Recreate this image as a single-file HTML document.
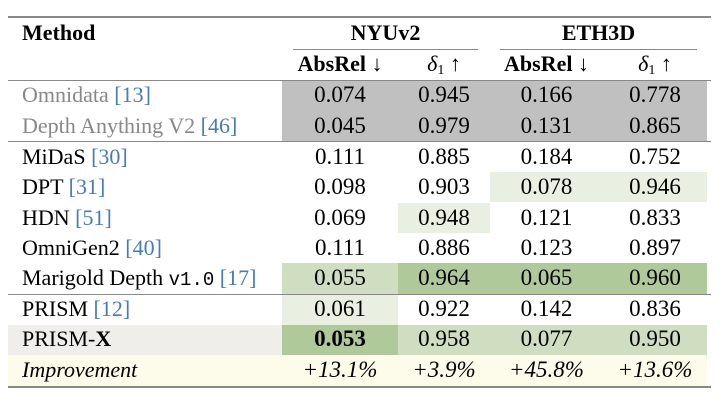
<!DOCTYPE html>
<html><head><meta charset="utf-8"><style>
*{font-family:"Liberation Serif","Times New Roman",serif}
body{margin:0;width:724px;height:400px;background:#fff;position:relative;overflow:hidden;font-size:22px;color:#000}
.r{position:absolute}
.t{position:absolute;line-height:30px;height:30px;white-space:nowrap;font-family:"Liberation Serif",serif}
.t b,.t i,.t span{font-family:"Liberation Serif",serif}
.c{text-align:center}
.n{font-size:23px}
.g{color:#888}.b{color:#4a7ab8}
.t .mono{font-family:"Liberation Mono",monospace;font-size:19px}
sub{font-size:14px;line-height:0;vertical-align:-3px}
</style></head><body>
<div class="r" style="left:282px;top:81px;width:425px;height:60px;background:#c0c0c0"></div>
<div class="r" style="left:490px;top:172px;width:217px;height:30px;background:#e9f0e2"></div>
<div class="r" style="left:398px;top:203px;width:92px;height:30px;background:#e9f0e2"></div>
<div class="r" style="left:282px;top:263px;width:116px;height:31px;background:#cfddc0"></div>
<div class="r" style="left:398px;top:263px;width:309px;height:31px;background:#b0c99a"></div>
<div class="r" style="left:282px;top:295px;width:116px;height:30px;background:#e9f0e2"></div>
<div class="r" style="left:8px;top:325px;width:274px;height:30px;background:#efeeea"></div>
<div class="r" style="left:282px;top:325px;width:116px;height:30px;background:#b0c99a"></div>
<div class="r" style="left:398px;top:325px;width:309px;height:30px;background:#cfddc0"></div>
<div class="r" style="left:8px;top:355px;width:699px;height:31px;background:#fdfbe9"></div>
<div class="r" style="left:8px;top:16px;width:703px;height:2px;background:#888"></div>
<div class="r" style="left:293px;top:49px;width:185px;height:1px;background:#888"></div>
<div class="r" style="left:500px;top:49px;width:197px;height:1px;background:#888"></div>
<div class="r" style="left:8px;top:80px;width:703px;height:1px;background:#888"></div>
<div class="r" style="left:8px;top:141px;width:703px;height:1px;background:#888"></div>
<div class="r" style="left:8px;top:294px;width:703px;height:1px;background:#888"></div>
<div class="r" style="left:8px;top:386px;width:703px;height:2px;background:#888"></div>
<div class="t" style="left:22px;top:18px;font-weight:bold">Method</div>
<div class="t c" style="left:293px;width:185px;top:18px;font-weight:bold">NYUv2</div>
<div class="t c" style="left:500px;width:197px;top:18px;font-weight:bold">ETH3D</div>
<div class="t c" style="left:282px;width:116px;top:49px"><b>AbsRel</b> ↓</div>
<div class="t c" style="left:398px;width:92px;top:49px"><i>δ</i><sub>1</sub> ↑</div>
<div class="t c" style="left:490px;width:113px;top:49px"><b>AbsRel</b> ↓</div>
<div class="t c" style="left:603px;width:104px;top:49px"><i>δ</i><sub>1</sub> ↑</div>
<div id="rows"></div>
<script>
var rows=[
[80,'<span class="g">Omnidata</span> <span class="b">[13]</span>',['0.074','0.945','0.166','0.778']],
[111,'<span class="g">Depth Anything V2</span> <span class="b">[46]</span>',['0.045','0.979','0.131','0.865']],
[142,'MiDaS <span class="b">[30]</span>',['0.111','0.885','0.184','0.752']],
[172,'DPT <span class="b">[31]</span>',['0.098','0.903','0.078','0.946']],
[203,'HDN <span class="b">[51]</span>',['0.069','0.948','0.121','0.833']],
[233,'OmniGen2 <span class="b">[40]</span>',['0.111','0.886','0.123','0.897']],
[263,'Marigold Depth <span class="mono">v1.0</span> <span class="b">[17]</span>',['0.055','0.964','0.065','0.960']],
[294,'PRISM <span class="b">[12]</span>',['0.061','0.922','0.142','0.836']],
[324,'PRISM-<b>X</b>',['<b>0.053</b>','0.958','0.077','0.950']],
[355,'<i>Improvement</i>',['<i>+13.1%</i>','<i>+3.9%</i>','<i>+45.8%</i>','<i>+13.6%</i>']]];
var cols=[[282,116],[398,92],[490,113],[603,104]];
var h='';
rows.forEach(function(r){
h+='<div class="t" style="left:22px;top:'+r[0]+'px">'+r[1]+'</div>';
r[2].forEach(function(v,i){h+='<div class="t c n" style="left:'+cols[i][0]+'px;width:'+cols[i][1]+'px;top:'+r[0]+'px">'+v+'</div>';});
});
document.getElementById('rows').innerHTML=h;
</script>
</body></html>
